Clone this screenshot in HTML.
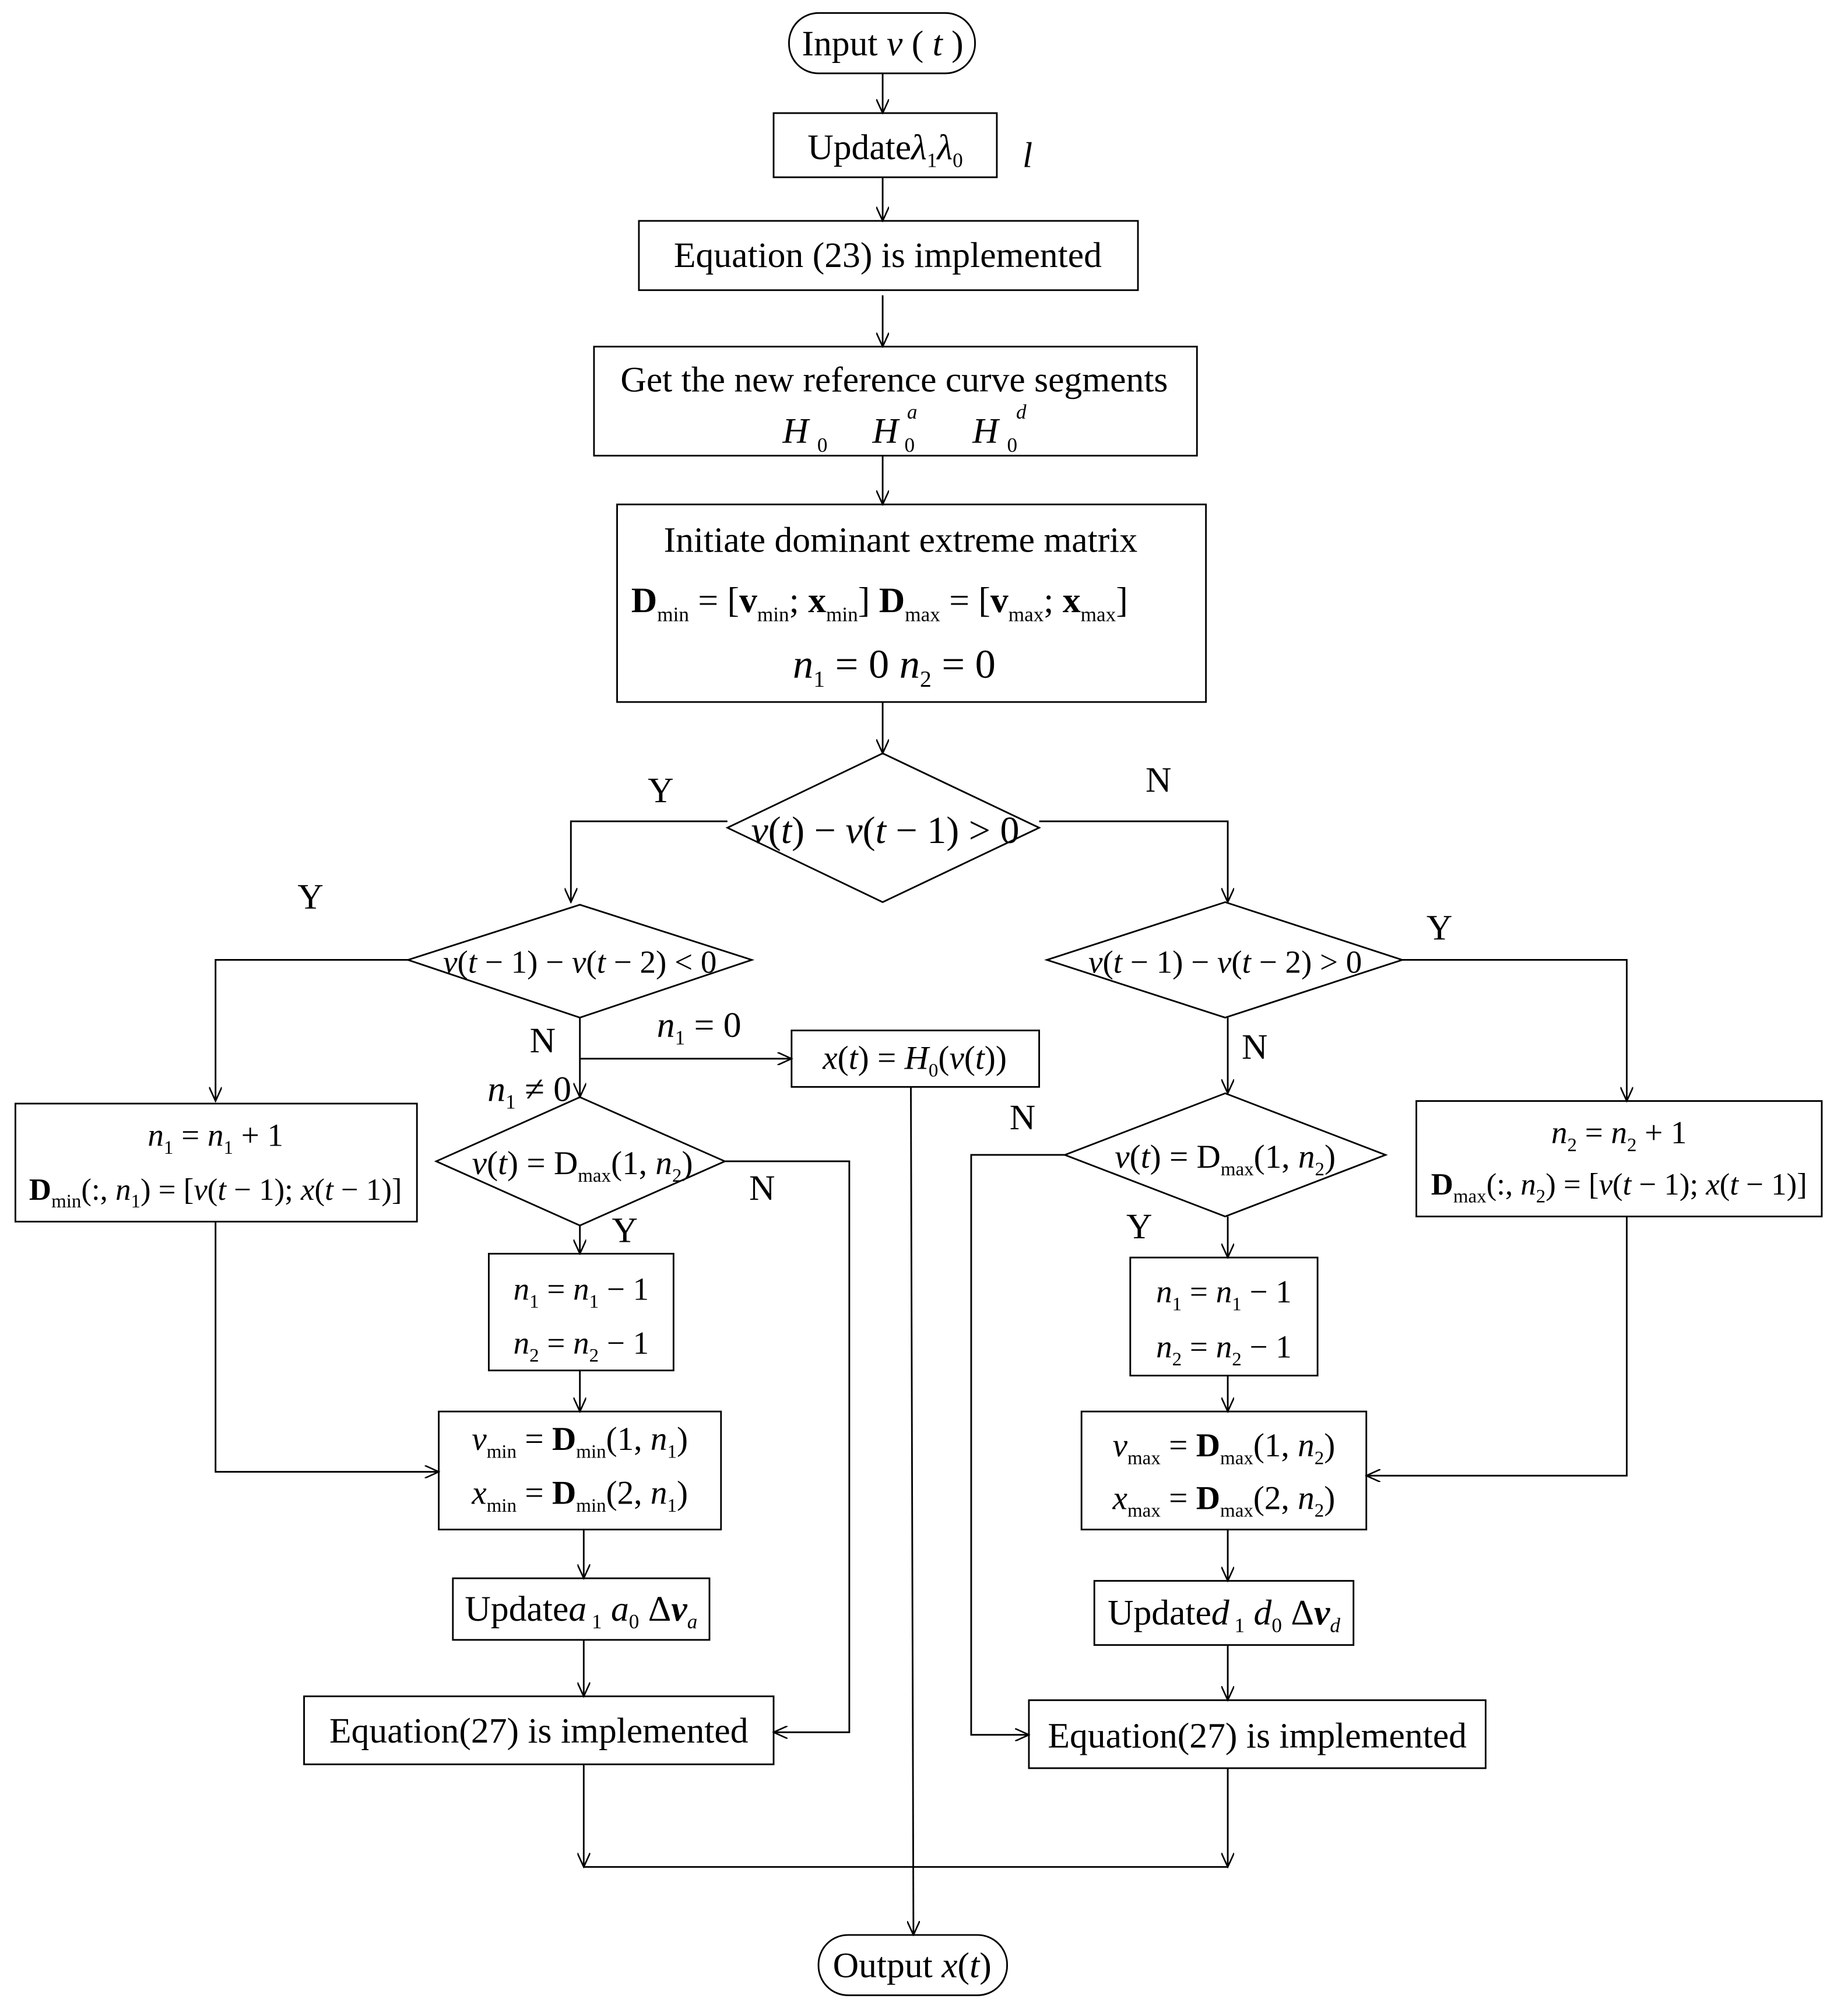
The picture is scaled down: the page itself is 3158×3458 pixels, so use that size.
<!DOCTYPE html>
<html><head><meta charset="utf-8"><style>
html,body{margin:0;padding:0;background:#fff}
svg{display:block}
text{font-family:"Liberation Serif",serif;fill:#000}
.i{font-style:italic}
.b{font-weight:bold}
</style></head><body>
<svg width="3158" height="3458" viewBox="0 0 1435 1571" xmlns="http://www.w3.org/2000/svg">
<defs><marker id="a" markerWidth="12" markerHeight="10" refX="11" refY="5" orient="auto" markerUnits="userSpaceOnUse"><path d="M0,0 L11,5 L0,10" fill="none" stroke="#000" stroke-width="1.2"/></marker></defs>
<g fill="none" stroke="#000" stroke-width="1.3">
<rect x="615" y="10" width="145" height="47" rx="23"/>
<rect x="603" y="88" width="174" height="50"/>
<rect x="498" y="172" width="389" height="54"/>
<rect x="463" y="270" width="470" height="85"/>
<rect x="481" y="393" width="459" height="154"/>
<polygon points="688,587 810,645 688,703 567,645"/>
<polygon points="452,705 586,748 452,793 318,748"/>
<polygon points="955,703 1093,748 955,793 816,748"/>
<rect x="617" y="803" width="193" height="44"/>
<rect x="12" y="860" width="313" height="92"/>
<polygon points="452,855 565,905 452,955 340,905"/>
<rect x="381" y="977" width="144" height="91"/>
<rect x="342" y="1100" width="220" height="92"/>
<rect x="353" y="1230" width="200" height="48"/>
<rect x="237" y="1322" width="366" height="53"/>
<polygon points="955,852 1080,900 955,948 830,900"/>
<rect x="881" y="980" width="146" height="92"/>
<rect x="843" y="1100" width="222" height="92"/>
<rect x="1104" y="858" width="316" height="90"/>
<rect x="853" y="1232" width="202" height="50"/>
<rect x="802" y="1325" width="356" height="53"/>
<rect x="638" y="1508" width="147" height="47" rx="23"/>
</g>
<g fill="none" stroke="#000" stroke-width="1.3" marker-end="url(#a)">
<path d="M688,57V88"/><path d="M688,138V172"/><path d="M688,230V270"/><path d="M688,355V393"/><path d="M688,547V587"/>
<path d="M567,640H445V703"/><path d="M810,640H957V703"/>
<path d="M318,748H168V858"/><path d="M452,793V855"/><path d="M452,825H617"/>
<path d="M565,905H662V1350H603"/><path d="M452,955V977"/><path d="M452,1068V1100"/>
<path d="M168,952V1147H342"/><path d="M455,1192V1230"/><path d="M455,1278V1322"/>
<path d="M455,1375V1455"/><path d="M957,1378V1455"/>
<path d="M1093,748H1268V858"/><path d="M957,793V852"/><path d="M830,900H757V1352H802"/>
<path d="M957,948V980"/><path d="M957,1072V1100"/><path d="M1268,948V1150H1065"/>
<path d="M957,1192V1232"/><path d="M957,1282V1325"/>
<path d="M710,847L712,1508"/>
</g>
<line x1="455" y1="1455" x2="957" y2="1455" stroke="#000" stroke-width="1.3"/>
<g font-size="28">
<text x="688" y="43" text-anchor="middle">Input <tspan class="i">v</tspan> ( <tspan class="i">t</tspan> )</text>
<text x="690" y="124" text-anchor="middle">Update<tspan class="i">λ</tspan><tspan font-size="16" dy="6">1</tspan><tspan class="i" dy="-6">λ</tspan><tspan font-size="16" dy="6">0</tspan></text>
<text x="797" y="130" class="i">l</text>
<text x="692" y="208" text-anchor="middle">Equation (23) is implemented</text>
<text x="697" y="305" text-anchor="middle">Get the new reference curve segments</text>
<text x="610" y="345" class="i">H</text><text x="637" y="352" font-size="16">0</text>
<text x="680" y="345" class="i">H</text><text x="705" y="352" font-size="16">0</text><text x="707" y="326" font-size="16" class="i">a</text>
<text x="758" y="345" class="i">H</text><text x="785" y="352" font-size="16">0</text><text x="792" y="326" font-size="16" class="i">d</text>
<text x="702" y="430" text-anchor="middle">Initiate dominant extreme matrix</text>
<text x="492" y="477"><tspan class="b">D</tspan><tspan font-size="16" dy="7">min</tspan><tspan dy="-7"> = [</tspan><tspan class="b">v</tspan><tspan font-size="16" dy="7">min</tspan><tspan dy="-7">; </tspan><tspan class="b">x</tspan><tspan font-size="16" dy="7">min</tspan><tspan dy="-7">] </tspan><tspan class="b">D</tspan><tspan font-size="16" dy="7">max</tspan><tspan dy="-7"> = [</tspan><tspan class="b">v</tspan><tspan font-size="16" dy="7">max</tspan><tspan dy="-7">; </tspan><tspan class="b">x</tspan><tspan font-size="16" dy="7">max</tspan><tspan dy="-7">]</tspan></text>
<text x="618" y="528" font-size="32"><tspan class="i">n</tspan><tspan font-size="18" dy="7">1</tspan><tspan dy="-7"> = 0   </tspan><tspan class="i">n</tspan><tspan font-size="18" dy="7">2</tspan><tspan dy="-7"> = 0</tspan></text>
<text x="690" y="657" text-anchor="middle" font-size="30"><tspan class="i">v</tspan>(<tspan class="i">t</tspan>) − <tspan class="i">v</tspan>(<tspan class="i">t</tspan> − 1) &gt; 0</text>
<text x="452" y="758" text-anchor="middle" font-size="25"><tspan class="i">v</tspan>(<tspan class="i">t</tspan> − 1) − <tspan class="i">v</tspan>(<tspan class="i">t</tspan> − 2) &lt; 0</text>
<text x="955" y="758" text-anchor="middle" font-size="25"><tspan class="i">v</tspan>(<tspan class="i">t</tspan> − 1) − <tspan class="i">v</tspan>(<tspan class="i">t</tspan> − 2) &gt; 0</text>
<text x="515" y="625" text-anchor="middle">Y</text><text x="903" y="617" text-anchor="middle">N</text>
<text x="242" y="708" text-anchor="middle">Y</text><text x="423" y="820" text-anchor="middle">N</text>
<text x="1122" y="732" text-anchor="middle">Y</text><text x="978" y="825" text-anchor="middle">N</text>
<text x="594" y="935" text-anchor="middle">N</text><text x="487" y="968" text-anchor="middle">Y</text>
<text x="797" y="880" text-anchor="middle">N</text><text x="888" y="965" text-anchor="middle">Y</text>
<text x="512" y="808"><tspan class="i">n</tspan><tspan font-size="16" dy="6">1</tspan><tspan dy="-6"> = 0</tspan></text>
<text x="380" y="858"><tspan class="i">n</tspan><tspan font-size="16" dy="6">1</tspan><tspan dy="-6"> ≠ 0</tspan></text>
<text x="713" y="833" text-anchor="middle" font-size="26"><tspan class="i">x</tspan>(<tspan class="i">t</tspan>) = <tspan class="i">H</tspan><tspan font-size="15" dy="6">0</tspan><tspan dy="-6">(</tspan><tspan class="i">v</tspan>(<tspan class="i">t</tspan>))</text>
<text x="168" y="893" text-anchor="middle" font-size="25"><tspan class="i">n</tspan><tspan font-size="15" dy="6">1</tspan><tspan dy="-6"> = </tspan><tspan class="i">n</tspan><tspan font-size="15" dy="6">1</tspan><tspan dy="-6"> + 1</tspan></text>
<text x="168" y="935" text-anchor="middle" font-size="24"><tspan class="b">D</tspan><tspan font-size="15" dy="6">min</tspan><tspan dy="-6">(:, </tspan><tspan class="i">n</tspan><tspan font-size="15" dy="6">1</tspan><tspan dy="-6">) = [</tspan><tspan class="i">v</tspan>(<tspan class="i">t</tspan> − 1); <tspan class="i">x</tspan>(<tspan class="i">t</tspan> − 1)]</text>
<text x="1262" y="891" text-anchor="middle" font-size="25"><tspan class="i">n</tspan><tspan font-size="15" dy="6">2</tspan><tspan dy="-6"> = </tspan><tspan class="i">n</tspan><tspan font-size="15" dy="6">2</tspan><tspan dy="-6"> + 1</tspan></text>
<text x="1262" y="931" text-anchor="middle" font-size="24"><tspan class="b">D</tspan><tspan font-size="15" dy="6">max</tspan><tspan dy="-6">(:, </tspan><tspan class="i">n</tspan><tspan font-size="15" dy="6">2</tspan><tspan dy="-6">) = [</tspan><tspan class="i">v</tspan>(<tspan class="i">t</tspan> − 1); <tspan class="i">x</tspan>(<tspan class="i">t</tspan> − 1)]</text>
<text x="454" y="915" text-anchor="middle" font-size="26"><tspan class="i">v</tspan>(<tspan class="i">t</tspan>) = D<tspan font-size="15" dy="6">max</tspan><tspan dy="-6">(1, </tspan><tspan class="i">n</tspan><tspan font-size="15" dy="6">2</tspan><tspan dy="-6">)</tspan></text>
<text x="955" y="910" text-anchor="middle" font-size="26"><tspan class="i">v</tspan>(<tspan class="i">t</tspan>) = D<tspan font-size="15" dy="6">max</tspan><tspan dy="-6">(1, </tspan><tspan class="i">n</tspan><tspan font-size="15" dy="6">2</tspan><tspan dy="-6">)</tspan></text>
<text x="453" y="1013" text-anchor="middle" font-size="25"><tspan class="i">n</tspan><tspan font-size="15" dy="6">1</tspan><tspan dy="-6"> = </tspan><tspan class="i">n</tspan><tspan font-size="15" dy="6">1</tspan><tspan dy="-6"> − 1</tspan></text>
<text x="453" y="1055" text-anchor="middle" font-size="25"><tspan class="i">n</tspan><tspan font-size="15" dy="6">2</tspan><tspan dy="-6"> = </tspan><tspan class="i">n</tspan><tspan font-size="15" dy="6">2</tspan><tspan dy="-6"> − 1</tspan></text>
<text x="954" y="1015" text-anchor="middle" font-size="25"><tspan class="i">n</tspan><tspan font-size="15" dy="6">1</tspan><tspan dy="-6"> = </tspan><tspan class="i">n</tspan><tspan font-size="15" dy="6">1</tspan><tspan dy="-6"> − 1</tspan></text>
<text x="954" y="1058" text-anchor="middle" font-size="25"><tspan class="i">n</tspan><tspan font-size="15" dy="6">2</tspan><tspan dy="-6"> = </tspan><tspan class="i">n</tspan><tspan font-size="15" dy="6">2</tspan><tspan dy="-6"> − 1</tspan></text>
<text x="452" y="1130" text-anchor="middle" font-size="26"><tspan class="i">v</tspan><tspan font-size="15" dy="6">min</tspan><tspan dy="-6"> = </tspan><tspan class="b">D</tspan><tspan font-size="15" dy="6">min</tspan><tspan dy="-6">(1, </tspan><tspan class="i">n</tspan><tspan font-size="15" dy="6">1</tspan><tspan dy="-6">)</tspan></text>
<text x="452" y="1172" text-anchor="middle" font-size="26"><tspan class="i">x</tspan><tspan font-size="15" dy="6">min</tspan><tspan dy="-6"> = </tspan><tspan class="b">D</tspan><tspan font-size="15" dy="6">min</tspan><tspan dy="-6">(2, </tspan><tspan class="i">n</tspan><tspan font-size="15" dy="6">1</tspan><tspan dy="-6">)</tspan></text>
<text x="954" y="1135" text-anchor="middle" font-size="26"><tspan class="i">v</tspan><tspan font-size="15" dy="6">max</tspan><tspan dy="-6"> = </tspan><tspan class="b">D</tspan><tspan font-size="15" dy="6">max</tspan><tspan dy="-6">(1, </tspan><tspan class="i">n</tspan><tspan font-size="15" dy="6">2</tspan><tspan dy="-6">)</tspan></text>
<text x="954" y="1176" text-anchor="middle" font-size="26"><tspan class="i">x</tspan><tspan font-size="15" dy="6">max</tspan><tspan dy="-6"> = </tspan><tspan class="b">D</tspan><tspan font-size="15" dy="6">max</tspan><tspan dy="-6">(2, </tspan><tspan class="i">n</tspan><tspan font-size="15" dy="6">2</tspan><tspan dy="-6">)</tspan></text>
<text x="453" y="1263" text-anchor="middle">Update<tspan class="i">a</tspan><tspan font-size="16" dy="6"> 1</tspan><tspan class="i" dy="-6"> a</tspan><tspan font-size="16" dy="6">0</tspan><tspan dy="-6"> Δ</tspan><tspan class="i b">v</tspan><tspan font-size="16" class="i" dy="6">a</tspan></text>
<text x="954" y="1266" text-anchor="middle">Update<tspan class="i">d</tspan><tspan font-size="16" dy="6"> 1</tspan><tspan class="i" dy="-6"> d</tspan><tspan font-size="16" dy="6">0</tspan><tspan dy="-6"> Δ</tspan><tspan class="i b">v</tspan><tspan font-size="16" class="i" dy="6">d</tspan></text>
<text x="420" y="1358" text-anchor="middle">Equation(27) is implemented</text>
<text x="980" y="1362" text-anchor="middle">Equation(27) is implemented</text>
<text x="711" y="1541" text-anchor="middle">Output <tspan class="i">x</tspan>(<tspan class="i">t</tspan>)</text>
</g>
</svg>
</body></html>
